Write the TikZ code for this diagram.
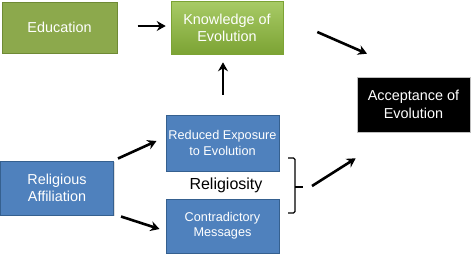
\documentclass[tikz,border=0pt]{standalone}
\usepackage{fontspec}
\setmainfont{Liberation Sans}
\usetikzlibrary{arrows.meta,calc,shadows}
\definecolor{bluefill}{HTML}{4F81BD}
\definecolor{blueline}{HTML}{35608F}
\definecolor{edufill}{HTML}{8CA94C}
\definecolor{eduline}{HTML}{6F8A35}
\definecolor{knowtop}{HTML}{A8CB66}
\definecolor{knowbot}{HTML}{7CA334}
\tikzset{
  boxbase/.style={rectangle, align=center, text=white, inner sep=1pt,
    drop shadow={opacity=0.25, shadow xshift=1pt, shadow yshift=-1pt}},
  bluebox/.style={boxbase, fill=bluefill, draw=blueline, line width=1pt,
    font=\fontsize{12.7}{15.2}\selectfont},
  bigtext/.style={font=\fontsize{14.4}{17.3}\selectfont},
  arr/.style={line width=2.6pt, -{Stealth[length=9pt,width=10pt,inset=3pt]}},
  bracket/.style={line width=1.1pt, rounded corners=1.5pt},
}
\begin{document}
\begin{tikzpicture}[x=1pt,y=-1pt]
\useasboundingbox (0,0) rectangle (473,255);
\node[boxbase, bigtext, fill=edufill, draw=eduline, line width=1pt,
  minimum width=115pt, minimum height=51pt] (edu) at (59.5,27.5) {Education};
\node[boxbase, bigtext, top color=knowtop, bottom color=knowbot, draw=knowbot,
  line width=0.6pt, minimum width=112pt, minimum height=53pt] (know) at (227,27.5) {Knowledge of\\Evolution};
\node[boxbase, bigtext, fill=black, draw=black!25, line width=0.6pt,
  minimum width=113pt, minimum height=55pt] (acc) at (413.5,104.5) {Acceptance of\\Evolution};
\node[bluebox, minimum width=113pt, minimum height=56pt] (red) at (222.5,143) {Reduced Exposure\\to Evolution};
\node[bluebox, minimum width=113pt, minimum height=54pt] (con) at (222.5,226) {Contradictory\\Messages};
\node[bluebox, bigtext, minimum width=113pt, minimum height=54pt] (rel) at (57,188) {Religious\\Affiliation};
\node[font=\fontsize{16}{19}\selectfont, text=black] (relg) at (226,185) {Religiosity};
\coordinate (btip) at (303,187);
\draw[bracket] (288,158) -- (295,158) -- (295,213) -- (288,213);
\draw[bracket] (295,187) -- (btip);
\draw[arr] ($(edu.east)+(20,-1.5)$) -- ($(know.west)+(-5,-1.5)$);
\draw[arr] ($(red.north)+(0.5,-20)$) -- ($(know.south)+(-4,8)$);
\draw[arr] ($(know.east)+(34,4.5)$) -- ($(acc.north)+(-46.5,-23)$);
\draw[arr] ($(rel.north east)+(4,-2)$) -- ($(red.west)+(-9,-2)$);
\draw[arr] ($(rel.south east)+(7,1)$) -- ($(con.west)+(-6,3)$);
\draw[arr] ($(btip)+(9,-1)$) -- ($(acc.south west)+(-1,26)$);
\end{tikzpicture}
\end{document}
